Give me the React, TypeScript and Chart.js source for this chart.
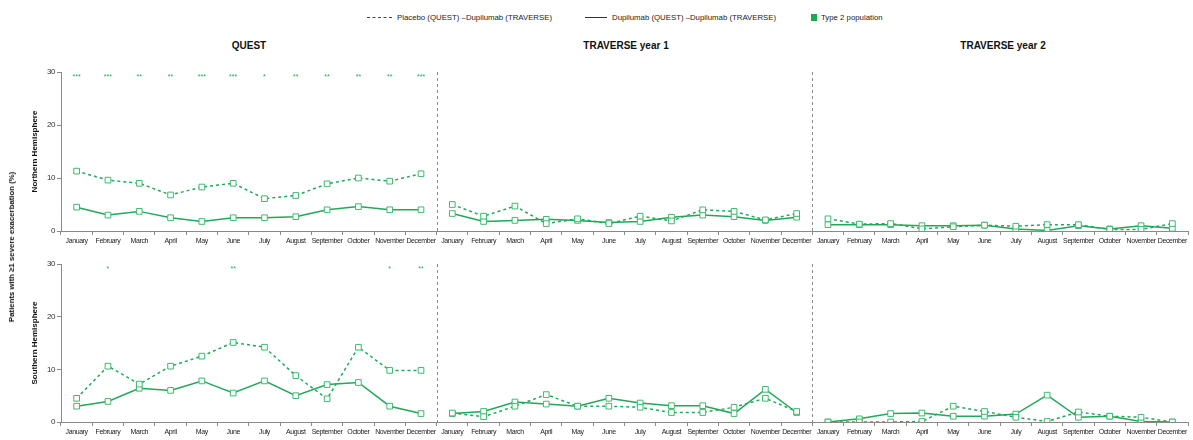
import React, { useEffect, useRef } from "react";
import { Chart, registerables } from "chart.js";

Chart.register(...registerables);

// ---------- data ----------
const months = [
  "January", "February", "March", "April", "May", "June",
  "July", "August", "September", "October", "November", "December",
];
const panelTitles = ["QUEST", "TRAVERSE year 1", "TRAVERSE year 2"];
const rowLabels = ["Northern Hemisphere", "Southern Hemisphere"];
const yTicks = [0, 10, 20, 30];

// Northern Hemisphere
const nhQuestPlacebo = [11.3, 9.6, 9.0, 6.8, 8.3, 9.0, 6.1, 6.7, 8.9, 10.0, 9.4, 10.8];
const nhQuestDupilumab = [4.5, 3.0, 3.7, 2.5, 1.8, 2.5, 2.5, 2.7, 4.0, 4.6, 4.0, 4.0];
const nhTrav1Placebo = [5.0, 2.8, 4.7, 1.4, 2.3, 1.4, 2.8, 1.9, 4.0, 3.7, 2.1, 3.3];
const nhTrav1Dupilumab = [3.3, 1.8, 2.0, 2.2, 2.0, 1.6, 1.8, 2.6, 3.0, 2.7, 2.0, 2.6];
const nhTrav2Placebo = [2.3, 1.3, 1.4, 0.4, 0.8, 1.1, 0.9, 1.2, 1.2, 0.3, 0.3, 1.4];
const nhTrav2Dupilumab = [1.2, 1.2, 1.2, 1.0, 1.0, 1.1, 0.4, 0.1, 1.0, 0.4, 1.0, 0.5];
const nhSignificance = ["***", "***", "**", "**", "***", "***", "*", "**", "**", "**", "**", "***"];

// Southern Hemisphere
const shQuestPlacebo = [4.5, 10.6, 7.2, 10.6, 12.5, 15.1, 14.2, 8.8, 4.4, 14.2, 9.8, 9.8];
const shQuestDupilumab = [3.0, 3.9, 6.4, 6.0, 7.8, 5.5, 7.8, 5.0, 7.1, 7.5, 3.0, 1.6];
const shTrav1Placebo = [1.7, 1.0, 3.0, 5.2, 3.0, 3.0, 2.8, 1.8, 1.8, 2.8, 4.5, 2.0];
const shTrav1Dupilumab = [1.6, 2.0, 3.8, 3.4, 3.0, 4.5, 3.6, 3.1, 3.1, 1.6, 6.2, 1.8];
const shTrav2Placebo = [0.0, 0.0, 0.0, 0.1, 3.0, 2.0, 0.9, 0.1, 1.9, 1.1, 0.9, 0.0];
const shTrav2Dupilumab = [0.0, 0.6, 1.6, 1.7, 1.1, 1.1, 1.5, 5.1, 0.9, 1.1, 0.1, 0.0];
const shSignificance = ["", "*", "", "", "", "**", "", "", "", "", "*", "**"];

const legendPlacebo = "Placebo (QUEST) –Dupilumab (TRAVERSE)";
const legendDupilumab = "Dupilumab (QUEST) –Dupilumab (TRAVERSE)";
const legendType2 = "Type 2 population";
const yAxisTitle = "Patients with \u22651 severe exacerbation (%)";

// ---------- styles ----------
const GREEN = "#22a85a";
const MARKER = "#3dba6e";
const AXIS = "#8a8a8a";
const SANS = "'Liberation Sans', Arial, Helvetica, sans-serif";

const categories = [...months, ...months, ...months];

function panelSeries(values: number[], panel: number) {
  return categories.map((_, i) => (Math.floor(i / 12) === panel ? values[i % 12] : null));
}

const condensePlugin = {
  id: "condense",
  beforeDraw(chart: any) {
    try {
      chart.ctx.letterSpacing = "-0.4px";
    } catch (e) {
      /* ignore */
    }
  },
};

const decorPlugin = {
  id: "decor",
  afterDatasetsDraw(chart: any, _args: any, opts: any) {
    const { ctx, chartArea } = chart;
    const x = chart.scales.x;
    const y = chart.scales.y;
    ctx.save();
    try {
      ctx.letterSpacing = "0px";
    } catch (e) {
      /* ignore */
    }
    // panel separators
    ctx.strokeStyle = AXIS;
    ctx.lineWidth = 1;
    ctx.setLineDash([3, 3]);
    [11.5, 23.5].forEach((v) => {
      const px = Math.round(x.getPixelForValue(v)) + 0.5;
      ctx.beginPath();
      ctx.moveTo(px, chartArea.top);
      ctx.lineTo(px, chartArea.bottom);
      ctx.stroke();
    });
    ctx.setLineDash([]);
    // significance markers
    ctx.fillStyle = GREEN;
    ctx.font = `7px ${SANS}`;
    ctx.textAlign = "center";
    ctx.textBaseline = "middle";
    (opts.sig || []).forEach((s: string, i: number) => {
      if (s) ctx.fillText(s, x.getPixelForValue(i), y.getPixelForValue(29.0));
    });
    // row label
    ctx.translate(35, (chartArea.top + chartArea.bottom) / 2);
    ctx.rotate(-Math.PI / 2);
    ctx.fillStyle = "#111";
    ctx.font = `bold 8px ${SANS}`;
    ctx.textBaseline = "middle";
    ctx.fillText(opts.rowLabel, 0, 0);
    ctx.restore();
  },
};

type RowProps = {
  placebo: number[][];
  dupilumab: number[][];
  sig: string[];
  rowLabel: string;
  top: number;
  height: number;
  padTop: number;
  xHeight: number;
};

function RowChart(props: RowProps) {
  const ref = useRef<HTMLCanvasElement | null>(null);
  useEffect(() => {
    if (!ref.current) return;
    const datasets: any[] = [];
    [0, 1, 2].forEach((p) => {
      datasets.push({
        label: legendPlacebo,
        data: panelSeries(props.placebo[p], p),
        borderColor: GREEN,
        borderWidth: 1.5,
        borderDash: [3, 3],
        pointStyle: "rect",
        pointRadius: 4,
        pointBorderWidth: 1,
        pointBorderColor: MARKER,
        pointBackgroundColor: "#ffffff",
        spanGaps: false,
        tension: 0,
      });
    });
    [0, 1, 2].forEach((p) => {
      datasets.push({
        label: legendDupilumab,
        data: panelSeries(props.dupilumab[p], p),
        borderColor: GREEN,
        borderWidth: 1.5,
        pointStyle: "rect",
        pointRadius: 4,
        pointBorderWidth: 1,
        pointBorderColor: MARKER,
        pointBackgroundColor: "#ffffff",
        spanGaps: false,
        tension: 0,
      });
    });
    const chart = new Chart(ref.current, {
      type: "line",
      data: { labels: categories, datasets },
      plugins: [condensePlugin, decorPlugin],
      options: {
        animation: false,
        responsive: false,
        maintainAspectRatio: false,
        layout: { padding: { top: props.padTop, right: 1, left: 0, bottom: 0 } },
        plugins: {
          legend: { display: false },
          tooltip: { enabled: false },
          decor: { sig: props.sig, rowLabel: props.rowLabel },
        } as any,
        scales: {
          x: {
            type: "category",
            offset: true,
            grid: {
              offset: true,
              drawOnChartArea: false,
              drawTicks: true,
              tickLength: 4,
              color: AXIS,
            },
            border: { display: true, color: AXIS, width: 1 },
            ticks: {
              autoSkip: false,
              maxRotation: 0,
              minRotation: 0,
              padding: 2,
              color: "#222",
              font: { family: SANS, size: 7 },
            },
            afterFit: (s: any) => {
              s.height = props.xHeight;
            },
          },
          y: {
            min: 0,
            max: 30,
            afterBuildTicks: (s: any) => {
              s.ticks = yTicks.map((v) => ({ value: v }));
            },
            grid: {
              drawOnChartArea: false,
              drawTicks: true,
              tickLength: 4,
              color: AXIS,
            },
            border: { display: true, color: AXIS, width: 1 },
            ticks: {
              padding: 2,
              color: "#333",
              font: { family: SANS, size: 8 },
            },
            afterFit: (s: any) => {
              s.width = 61;
            },
          },
        },
      },
    });
    return () => chart.destroy();
  }, []);
  return (
    <canvas
      ref={ref}
      width={1193}
      height={props.height}
      style={{ position: "absolute", left: 0, top: props.top, width: 1193, height: props.height }}
    />
  );
}

export default function App() {
  const legendText: React.CSSProperties = {
    position: "absolute",
    top: 11,
    fontSize: 7.8,
    lineHeight: "13px",
    color: "#222",
    whiteSpace: "nowrap",
  };
  const titleStyle: React.CSSProperties = {
    position: "absolute",
    top: 39,
    fontSize: 10,
    fontWeight: "bold",
    lineHeight: "14px",
    color: "#111",
    textAlign: "center",
    width: 200,
    whiteSpace: "nowrap",
  };
  const panelCenters = [249, 626, 1003];
  return (
    <div
      style={{
        position: "absolute",
        left: 0,
        top: 0,
        width: 1193,
        height: 440,
        background: "#ffffff",
        fontFamily: SANS,
        overflow: "hidden",
      }}
    >
      {/* legend */}
      <div style={{ position: "absolute", left: 367, top: 17, width: 25, borderTop: `1.5px dashed #444` }} />
      <div style={{ ...legendText, left: 397 }}>{legendPlacebo}</div>
      <div style={{ position: "absolute", left: 585, top: 17, width: 22, borderTop: `1.5px solid #333` }} />
      <div style={{ ...legendText, left: 612 }}>{legendDupilumab}</div>
      <div style={{ position: "absolute", left: 811, top: 14, width: 6, height: 7, background: "#12b04c" }} />
      <div style={{ ...legendText, left: 821 }}>{legendType2}</div>

      {/* panel titles */}
      {panelTitles.map((t, i) => (
        <div key={t} style={{ ...titleStyle, left: panelCenters[i] - 100 }}>
          {t}
        </div>
      ))}

      <RowChart
        placebo={[nhQuestPlacebo, nhTrav1Placebo, nhTrav2Placebo]}
        dupilumab={[nhQuestDupilumab, nhTrav1Dupilumab, nhTrav2Dupilumab]}
        sig={nhSignificance}
        rowLabel={rowLabels[0]}
        top={62}
        height={188}
        padTop={10}
        xHeight={19}
      />
      <RowChart
        placebo={[shQuestPlacebo, shTrav1Placebo, shTrav2Placebo]}
        dupilumab={[shQuestDupilumab, shTrav1Dupilumab, shTrav2Dupilumab]}
        sig={shSignificance}
        rowLabel={rowLabels[1]}
        top={250}
        height={190}
        padTop={14}
        xHeight={18}
      />

      {/* overall y-axis title */}
      <div
        style={{
          position: "absolute",
          left: 12,
          top: 247,
          transform: "translate(-50%, -50%) rotate(-90deg)",
          fontSize: 7.8,
          fontWeight: "bold",
          color: "#111",
          whiteSpace: "nowrap",
          lineHeight: "10px",
        }}
      >
        {yAxisTitle}
      </div>
    </div>
  );
}
